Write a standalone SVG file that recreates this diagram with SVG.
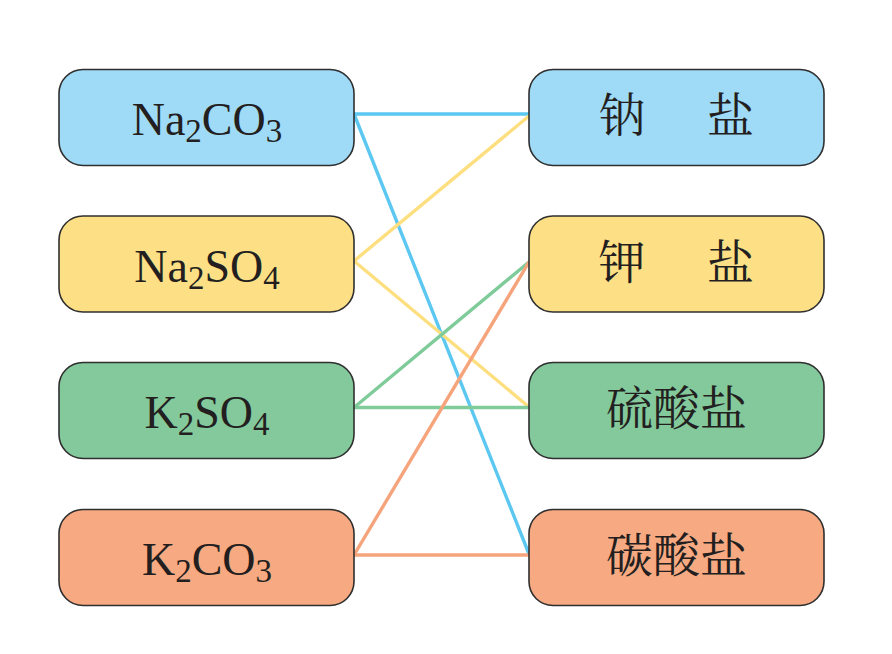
<svg xmlns="http://www.w3.org/2000/svg" width="892" height="654" viewBox="0 0 892 654">
<style>
.box{stroke:#2f2f2f;stroke-width:1.6}
.blue{fill:#9fdaf7}.yellow{fill:#fde085}.green{fill:#83c99b}.orange{fill:#f7a981}
.f{font-family:"Liberation Serif","Times New Roman",serif;font-size:46px;fill:#231f20;text-anchor:middle}
.s{font-size:33px}
.c{font-family:"Noto Serif CJK SC","Noto Sans CJK SC",serif;font-size:47px;fill:#231f20;text-anchor:middle}
.ln{stroke-width:3.4;fill:none;stroke-linecap:round}
</style>
<rect width="892" height="654" fill="#ffffff"/>
<g id="connectors">
<line class="ln" x1="354" y1="114" x2="529" y2="114" stroke="#5cc8f2"/>
<line class="ln" x1="354" y1="114" x2="529" y2="554" stroke="#5cc8f2"/>
<line class="ln" x1="354" y1="261" x2="529" y2="116" stroke="#fddf80"/>
<line class="ln" x1="354" y1="261" x2="529" y2="407" stroke="#fddf80"/>
<line class="ln" x1="354" y1="407.5" x2="529" y2="262" stroke="#7fcb99"/>
<line class="ln" x1="354" y1="407.5" x2="529" y2="407.5" stroke="#7fcb99"/>
<line class="ln" x1="354" y1="555" x2="529" y2="262" stroke="#f5a47c"/>
<line class="ln" x1="354" y1="555" x2="529" y2="555" stroke="#f5a47c"/>
</g>
<g id="na2co3">
<rect class="box blue" x="59" y="69.5" width="295" height="96" rx="24"/>
<text class="f" x="207" y="135">Na<tspan class="s" dy="7">2</tspan><tspan dy="-7">CO</tspan><tspan class="s" dy="7">3</tspan></text>
</g>
<g id="na2so4">
<rect class="box yellow" x="59" y="216" width="295" height="96" rx="24"/>
<text class="f" x="207" y="281.5">Na<tspan class="s" dy="7">2</tspan><tspan dy="-7">SO</tspan><tspan class="s" dy="7">4</tspan></text>
</g>
<g id="k2so4">
<rect class="box green" x="59" y="362.5" width="295" height="96" rx="24"/>
<text class="f" x="207" y="427.5">K<tspan class="s" dy="7">2</tspan><tspan dy="-7">SO</tspan><tspan class="s" dy="7">4</tspan></text>
</g>
<g id="k2co3">
<rect class="box orange" x="59" y="509.5" width="295" height="96" rx="24"/>
<text class="f" x="207" y="574.5">K<tspan class="s" dy="7">2</tspan><tspan dy="-7">CO</tspan><tspan class="s" dy="7">3</tspan></text>
</g>
<g id="sodium-salt">
<rect class="box blue" x="529" y="69.5" width="295" height="96" rx="24"/>
<text class="c" y="132"><tspan x="622">钠</tspan><tspan x="730.5">盐</tspan></text>
</g>
<g id="potassium-salt">
<rect class="box yellow" x="529" y="216" width="295" height="96" rx="24"/>
<text class="c" y="278.5"><tspan x="622">钾</tspan><tspan x="730.5">盐</tspan></text>
</g>
<g id="sulfate">
<rect class="box green" x="529" y="362.5" width="295" height="96" rx="24"/>
<text class="c" x="676.5" y="425">硫酸盐</text>
</g>
<g id="carbonate">
<rect class="box orange" x="529" y="509.5" width="295" height="96" rx="24"/>
<text class="c" x="676.5" y="572">碳酸盐</text>
</g>
</svg>
